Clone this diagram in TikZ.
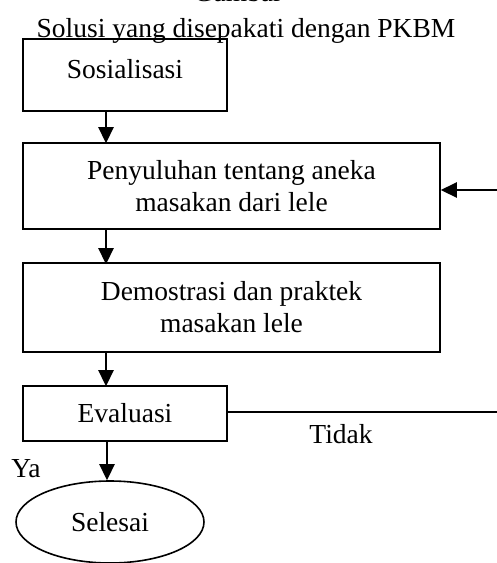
\documentclass[tikz,border=0pt]{standalone}
\usepackage{fontspec}
\setmainfont{Liberation Serif}
\usetikzlibrary{arrows.meta,shapes.geometric}
\begin{document}
\begin{tikzpicture}[x=1pt,y=-1pt,
  box/.style={draw=black,line width=1.6pt,inner sep=0pt,align=center,minimum width=#1},
  arr/.style={line width=2.6pt,-{Triangle[length=16pt,width=15pt]}},
  font=\fontsize{27.5}{32}\selectfont]
\useasboundingbox (0,0) rectangle (497,563);
\node[anchor=base] (gmb) at (238,1.5) {Gambar};
\node[anchor=base] (judul) at (246,37) {Solusi yang disepakati dengan PKBM};
\node[box=204pt,text height=39pt,text depth=33pt] (sos) at (125,75) {Sosialisasi};
\node[box=417pt,minimum height=86pt] (pen) at (231.5,186) {Penyuluhan tentang aneka\\masakan dari lele};
\node[box=417pt,minimum height=89pt] (dem) at (231.5,307.5) {Demostrasi dan praktek\\masakan lele};
\node[box=204pt,minimum height=55pt] (eva) at (125,413.5) {Evaluasi};
\node[draw=black,line width=1.6pt,ellipse,minimum width=188pt,minimum height=82pt,inner sep=0pt] (sel) at (110,522) {Selesai};
\node[anchor=base] (tdk) at (341,443) {Tidak};
\node[anchor=base] (ya) at (26,477) {Ya};
\coordinate (kol) at (106,0);
\coordinate (kanan1) at (497,412);
\coordinate (kanan2) at (497,190);
\draw[arr] (sos.south -| kol) -- ([yshift=-1pt]pen.north -| kol);
\draw[arr] (pen.south -| kol) -- ([yshift=-2pt]dem.north -| kol);
\draw[arr] (dem.south -| kol) -- ([yshift=-1pt]eva.north -| kol);
\draw[arr] (eva.south -| sel.north) ++(-3,0) coordinate (p) -- (sel.north -| p);
\draw[line width=1.8pt] (eva.east |- kanan1) -- (kanan1);
\draw[arr] (kanan2) -- (pen.east |- kanan2);
\end{tikzpicture}
\end{document}
